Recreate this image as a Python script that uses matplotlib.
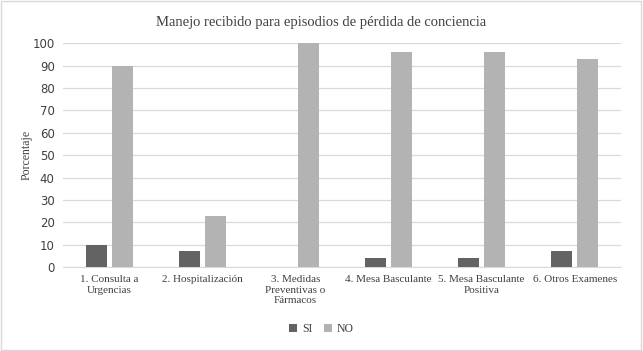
import matplotlib.pyplot as plt
import numpy as np
from matplotlib.patches import Rectangle

categorias = ["1. Consulta a\nUrgencias", "2. Hospitalización",
              "3. Medidas\nPreventivas o\nFármacos", "4. Mesa Basculante",
              "5. Mesa Basculante\nPositiva", "6. Otros Examenes"]
si = [10, 7, 0, 4, 4, 7]
no = [90, 23, 100, 96, 96, 93]

serif = ["Liberation Serif", "DejaVu Serif"]

fig = plt.figure(figsize=(6.43, 3.51), dpi=100)
ax = fig.add_axes([0.098, 0.239, 0.868, 0.638])

x = np.arange(len(categorias))
ancho = 0.23
ax.bar(x - 0.14, si, ancho, color="#636363", label="SI", zorder=3)
ax.bar(x + 0.14, no, ancho, color="#b3b3b3", label="NO", zorder=3)

ax.set_xlim(-0.5, len(categorias) - 0.5)
ax.set_ylim(0, 100)
ax.set_yticks(range(0, 101, 10))
ax.yaxis.grid(True, color="#d9d9d9", linewidth=0.9, zorder=0)
for s in ["top", "right", "left"]:
    ax.spines[s].set_visible(False)
ax.spines["bottom"].set_color("#d9d9d9")
ax.tick_params(axis="both", length=0, colors="#404040")
ax.tick_params(axis="y", labelsize=8.5, pad=6)
ax.set_xticks(x)
ax.set_xticklabels(categorias, fontsize=8, family=serif, color="#404040")
ax.tick_params(axis="x", pad=6)
ax.set_ylabel("Porcentaje", fontsize=8.5, family=serif, color="#404040", labelpad=0)

fig.suptitle("Manejo recibido para episodios de pérdida de conciencia",
             y=0.955, fontsize=10.5, family=serif, color="#404040")

fig.legend(loc="lower center", bbox_to_anchor=(0.5, 0.015), ncol=2, frameon=False,
           prop={"family": serif, "size": 8.5}, handlelength=0.7, handleheight=0.7,
           columnspacing=1.0, handletextpad=0.4, labelcolor="#404040")

fig.patches.append(Rectangle((0.002, 0.003), 0.995, 0.993, transform=fig.transFigure,
                             fill=False, edgecolor="#d9d9d9", linewidth=1))

fig.savefig("out.png", dpi=100)
